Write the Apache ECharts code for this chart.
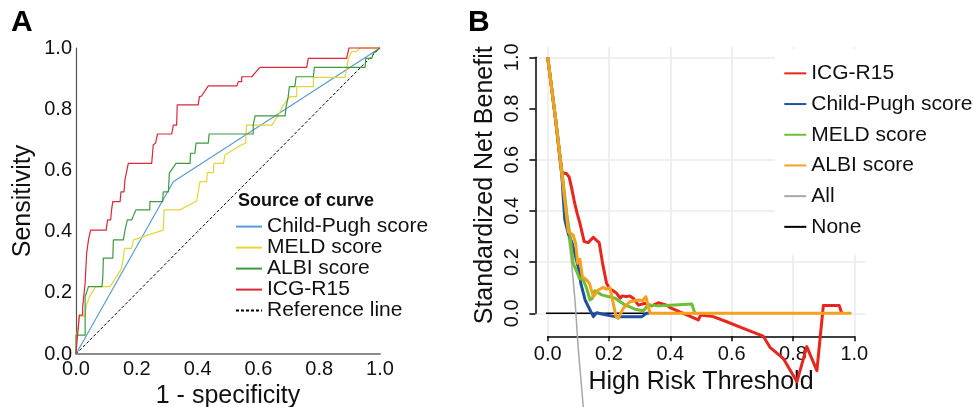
<!DOCTYPE html>
<html><head><meta charset="utf-8">
<script src="https://cdn.jsdelivr.net/npm/echarts@6/dist/echarts.min.js"></script>
<style>html,body{margin:0;padding:0;background:#fff}#c{width:973px;height:407px}</style>
</head><body><div id="c"></div>
<script>
// ---------- Panel A: ROC curves (1 - specificity, sensitivity) ----------
const rocLegend = ['Child-Pugh score', 'MELD score', 'ALBI score', 'ICG-R15', 'Reference line'];
const rocTicks = [0, 0.2, 0.4, 0.6, 0.8, 1.0];
const rocChildPugh = [[0,0],[0.32,0.563],[1,1]];
const rocMELD = [[0,0],[0.003,0.06],[0.008,0.10],[0.010,0.124],[0.030,0.124],[0.034,0.16],[0.046,0.19],[0.065,0.220],[0.112,0.220],[0.150,0.280],[0.156,0.283],[0.160,0.345],[0.183,0.345],[0.189,0.373],[0.254,0.394],[0.287,0.405],[0.290,0.471],[0.342,0.471],[0.397,0.500],[0.402,0.530],[0.408,0.563],[0.430,0.563],[0.432,0.593],[0.452,0.593],[0.454,0.623],[0.485,0.623],[0.490,0.650],[0.543,0.683],[0.558,0.689],[0.561,0.748],[0.644,0.748],[0.666,0.781],[0.682,0.814],[0.704,0.841],[0.726,0.841],[0.726,0.874],[0.781,0.874],[0.781,0.904],[0.885,0.904],[0.896,0.966],[0.907,0.988],[0.923,0.988],[0.933,1.0],[1,1]];
const rocALBI = [[0,0],[0,0.062],[0.030,0.062],[0.030,0.187],[0.035,0.187],[0.041,0.220],[0.085,0.220],[0.088,0.247],[0.090,0.313],[0.121,0.313],[0.123,0.373],[0.156,0.373],[0.161,0.405],[0.167,0.405],[0.169,0.438],[0.183,0.438],[0.197,0.471],[0.243,0.471],[0.243,0.498],[0.285,0.498],[0.287,0.530],[0.304,0.530],[0.307,0.591],[0.329,0.623],[0.375,0.623],[0.377,0.656],[0.391,0.656],[0.395,0.689],[0.435,0.689],[0.438,0.719],[0.583,0.719],[0.583,0.748],[0.589,0.748],[0.589,0.778],[0.688,0.778],[0.691,0.808],[0.698,0.841],[0.702,0.874],[0.720,0.874],[0.724,0.906],[0.781,0.906],[0.784,0.937],[0.951,0.937],[0.953,0.966],[0.973,0.966],[0.978,0.983],[1,1]];
const rocICG = [[0,0],[0.002,0.03],[0.005,0.06],[0.008,0.09],[0.011,0.127],[0.022,0.127],[0.022,0.155],[0.028,0.155],[0.030,0.231],[0.035,0.329],[0.041,0.373],[0.048,0.405],[0.099,0.405],[0.104,0.438],[0.114,0.438],[0.117,0.471],[0.121,0.498],[0.145,0.498],[0.148,0.530],[0.158,0.530],[0.161,0.569],[0.172,0.623],[0.249,0.623],[0.254,0.683],[0.262,0.690],[0.268,0.719],[0.315,0.719],[0.320,0.748],[0.331,0.748],[0.333,0.814],[0.402,0.814],[0.406,0.841],[0.413,0.843],[0.435,0.876],[0.529,0.876],[0.534,0.890],[0.545,0.890],[0.545,0.906],[0.578,0.906],[0.605,0.937],[0.759,0.937],[0.764,0.966],[0.890,0.966],[0.898,1.0],[1,1]];
const rocReference = [[0,0],[1,1]];

// ---------- Panel B: decision curves (threshold, standardized net benefit) ----------
const dcaLegend = ['ICG-R15', 'Child-Pugh score', 'MELD score', 'ALBI score', 'All', 'None'];
const dcaTicks = [0, 0.2, 0.4, 0.6, 0.8, 1.0];
const dcaGridX = [0, 0.2, 0.4, 0.6, 0.8, 1.0];
const dcaGridY = [0, 0.2, 0.4, 0.6, 1.0];
const dcaICG = [[0,1.0],[0.026,0.755],[0.046,0.55],[0.052,0.548],[0.062,0.545],[0.070,0.532],[0.078,0.49],[0.088,0.43],[0.096,0.39],[0.105,0.352],[0.119,0.280],[0.132,0.276],[0.149,0.297],[0.160,0.284],[0.168,0.276],[0.179,0.195],[0.192,0.117],[0.203,0.094],[0.214,0.088],[0.225,0.078],[0.236,0.059],[0.243,0.068],[0.258,0.065],[0.268,0.068],[0.279,0.059],[0.296,0.032],[0.317,0.039],[0.339,0.029],[0.361,0.041],[0.388,0.032],[0.399,0.022],[0.491,-0.026],[0.499,-0.007],[0.540,-0.013],[0.584,-0.033],[0.638,-0.059],[0.703,-0.089],[0.714,-0.111],[0.725,-0.133],[0.768,-0.176],[0.813,-0.267],[0.845,-0.130],[0.878,-0.224],[0.899,0.030],[0.951,0.030],[0.959,0.0]];
const dcaChildPugh = [[0,1.0],[0.026,0.755],[0.046,0.547],[0.052,0.43],[0.056,0.364],[0.067,0.312],[0.080,0.273],[0.091,0.221],[0.102,0.169],[0.108,0.117],[0.122,0.052],[0.138,0.013],[0.149,-0.013],[0.160,0.002],[0.176,-0.003],[0.219,-0.013],[0.307,-0.013],[0.323,0.0],[0.33,0.0]];
const dcaMELD = [[0,1.0],[0.026,0.76],[0.046,0.56],[0.062,0.391],[0.073,0.299],[0.083,0.195],[0.095,0.163],[0.103,0.137],[0.116,0.130],[0.127,0.098],[0.138,0.052],[0.146,0.059],[0.154,0.088],[0.176,0.072],[0.220,0.059],[0.247,0.036],[0.285,0.016],[0.312,0.010],[0.328,0.032],[0.361,0.029],[0.415,0.032],[0.470,0.036],[0.480,0.0]];
const dcaALBI = [[0,1.0],[0.026,0.755],[0.046,0.547],[0.067,0.319],[0.083,0.306],[0.091,0.273],[0.098,0.195],[0.105,0.211],[0.113,0.143],[0.127,0.130],[0.136,0.117],[0.149,0.065],[0.165,0.091],[0.181,0.101],[0.192,0.094],[0.203,0.100],[0.223,-0.013],[0.230,-0.020],[0.247,0.020],[0.268,0.045],[0.296,0.052],[0.310,0.050],[0.320,0.065],[0.334,0.0],[0.99,0.0]];
const dcaAll = [[0,1.0],[0.02,0.79],[0.04,0.57],[0.062,0.352],[0.078,0.195],[0.089,0.052],[0.1,-0.143],[0.116,-0.365],[0.13,-0.55]];
const dcaNone = [[-0.04,0],[0.99,0]];

const FONT = 'Liberation Sans, Arial, Helvetica, sans-serif';
const fmt1 = v => Number(v).toFixed(1);

function ln(name, data, color, width, xi, yi, dash) {
  return {
    type: 'line', name, data, xAxisIndex: xi, yAxisIndex: yi,
    symbol: 'none', showSymbol: false, clip: false, silent: true,
    animation: false, emphasis: { disabled: true },
    lineStyle: { color, width, type: dash || 'solid', cap: 'butt', join: 'round' },
    itemStyle: { color }
  };
}

const chart = echarts.init(document.getElementById('c'), null, { renderer: 'canvas' });
chart.setOption({
  backgroundColor: '#fff',
  animation: false,
  textStyle: { fontFamily: FONT },
  title: [
    { text: 'A', left: 11, top: 8, padding: 0, textStyle: { fontFamily: FONT, fontSize: 30, fontWeight: 'bold', color: '#000' } },
    { text: 'B', left: 468, top: 8, padding: 0, textStyle: { fontFamily: FONT, fontSize: 30, fontWeight: 'bold', color: '#000' } },
    { text: 'Source of curve', left: 238, top: 192, padding: 0, textStyle: { fontFamily: FONT, fontSize: 18, fontWeight: 'bold', color: '#111' } }
  ],
  legend: [
    {
      data: rocLegend, orient: 'vertical', left: 235, top: 216.1, padding: 0,
      itemWidth: 26, itemHeight: 19.2, itemGap: 0, selectedMode: false,
      itemStyle: { opacity: 0 },
      textStyle: { fontFamily: FONT, fontSize: 21, lineHeight: 19.2, color: '#111' }
    },
    {
      data: dcaLegend.map(n => 'B ' + n), orient: 'vertical', left: 775, top: 49,
      padding: [9, 10, 13, 8], backgroundColor: '#fff',
      itemWidth: 22, itemHeight: 30.7, itemGap: 0, selectedMode: false,
      itemStyle: { opacity: 0 },
      formatter: n => n.replace(/^B /, ''),
      textStyle: { fontFamily: FONT, fontSize: 21, lineHeight: 30.7, color: '#111' }
    }
  ],
  grid: [
    { left: 76, top: 48, width: 304, height: 306, outerBoundsMode: 'none', containLabel: false },
    { left: 535.4, top: 47.06, width: 331.2, height: 289.3, outerBoundsMode: 'none', containLabel: false },
    { left: 547.7, top: 57.3, width: 306.6, height: 256, outerBoundsMode: 'none', containLabel: false }
  ],
  xAxis: [
    {
      gridIndex: 0, type: 'value', min: 0, max: 1, interval: 0.2,
      name: '1 - specificity', nameLocation: 'middle', nameGap: 21,
      nameTextStyle: { fontFamily: FONT, fontSize: 25, color: '#111' },
      axisLine: { show: true, onZero: false, lineStyle: { color: '#8c8c8c', width: 2 } },
      axisTick: { show: false }, splitLine: { show: false },
      axisLabel: { formatter: fmt1, fontFamily: FONT, fontSize: 20, color: '#111', margin: 5 }
    },
    {
      gridIndex: 1, type: 'value', min: -0.04, max: 1.04,
      axisLine: { show: false }, axisLabel: { show: false },
      axisTick: { show: false, customValues: dcaGridX },
      splitLine: { show: true, lineStyle: { color: '#ebebeb', width: 1.6 } }
    },
    {
      gridIndex: 2, type: 'value', min: 0, max: 1, interval: 0.2, offset: 23,
      name: 'High Risk Threshold', nameLocation: 'middle', nameGap: 33,
      nameTextStyle: { fontFamily: FONT, fontSize: 25, color: '#111' },
      axisLine: { show: true, onZero: false, lineStyle: { color: '#000', width: 1.5 } },
      axisTick: { show: true, length: 5, lineStyle: { color: '#000', width: 1.5 } },
      splitLine: { show: false },
      axisLabel: { formatter: fmt1, fontFamily: FONT, fontSize: 20, color: '#111', margin: 8 }
    }
  ],
  yAxis: [
    {
      gridIndex: 0, type: 'value', min: 0, max: 1, interval: 0.2,
      name: 'Sensitivity', nameLocation: 'middle', nameGap: 40,
      nameTextStyle: { fontFamily: FONT, fontSize: 25, color: '#111' },
      axisLine: { show: true, onZero: false, lineStyle: { color: '#555', width: 1.2 } },
      axisTick: { show: false }, splitLine: { show: false },
      axisLabel: { formatter: fmt1, fontFamily: FONT, fontSize: 20, color: '#111', margin: 4 }
    },
    {
      gridIndex: 1, type: 'value', min: -0.09, max: 1.04,
      axisLine: { show: false }, axisLabel: { show: false },
      axisTick: { show: false, customValues: dcaGridY },
      splitLine: { show: true, lineStyle: { color: '#ebebeb', width: 1.6 } }
    },
    {
      gridIndex: 2, type: 'value', min: 0, max: 1, interval: 0.2, offset: 12.3,
      name: 'Standardized Net Benefit', nameLocation: 'middle', nameGap: 38,
      nameTextStyle: { fontFamily: FONT, fontSize: 25, color: '#111' },
      axisLine: { show: true, onZero: false, lineStyle: { color: '#000', width: 1.5 } },
      axisTick: { show: true, length: 6, lineStyle: { color: '#000', width: 1.5 } },
      splitLine: { show: false },
      axisLabel: { formatter: fmt1, fontFamily: FONT, fontSize: 20, color: '#111', margin: 13, rotate: 90 }
    }
  ],
  series: [
    ln('Reference line', rocReference, '#000', 1, 0, 0, [3, 2]),
    ln('Child-Pugh score', rocChildPugh, '#5b9bd8', 1.2, 0, 0),
    ln('MELD score', rocMELD, '#e4d53a', 1.2, 0, 0),
    ln('ALBI score', rocALBI, '#3e9a3e', 1.2, 0, 0),
    ln('ICG-R15', rocICG, '#d9283a', 1.2, 0, 0),
    ln('B None', dcaNone, '#000', 1.5, 2, 2),
    ln('B All', dcaAll, '#a8a8a8', 1.5, 2, 2),
    ln('B ICG-R15', dcaICG, '#e8261d', 3, 2, 2),
    ln('B Child-Pugh score', dcaChildPugh, '#2150a2', 3, 2, 2),
    ln('B MELD score', dcaMELD, '#6dbf34', 3, 2, 2),
    ln('B ALBI score', dcaALBI, '#f5a11c', 3, 2, 2)
  ]
});
</script></body></html>
